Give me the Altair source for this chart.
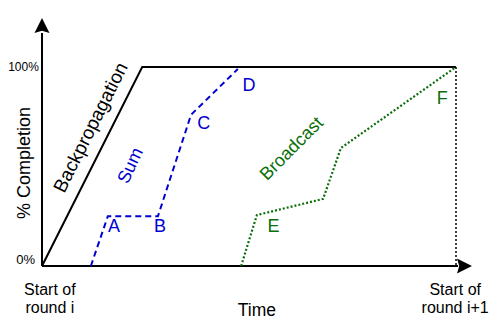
import altair as alt
import pandas as pd

# ---- data (x = time in % of a round, y = % completion) ----
bp_t = [0, 24.2, 100]
bp_pct = [0, 100, 100]
sum_t = [11.8, 15.9, 28.0, 36.0, 47.3]
sum_pct = [0, 25, 25, 76, 99]
bc_t = [48.1, 51.9, 67.9, 72.2, 100]
bc_pct = [0, 25.6, 33.7, 59.3, 100]

sum_point_labels = ["A", "B", "C", "D"]
sum_point_t = [17.4, 28.5, 39.1, 50.0]
sum_point_pct = [19.6, 19.6, 71.4, 90.5]
bc_point_labels = ["E", "F"]
bc_point_t = [55.9, 96.7]
bc_point_pct = [19.8, 83.7]

BLUE = "#0000d0"
GREEN = "#0a6e0a"
FONT = "Liberation Sans"

# scale: 4.14 px per time unit, 1.99 px per %
W, H = 482, 319
OX, OY = 34, 258
KX, KY = 4.14, 1.99
xs = alt.Scale(domain=[(0 - OX) / KX, (W - OX) / KX], nice=False, zero=False)
ys = alt.Scale(domain=[(OY - H) / KY, OY / KY], nice=False, zero=False)


def X(f="x"):
    return alt.X(f"{f}:Q", scale=xs, axis=None)


def Y(f="y"):
    return alt.Y(f"{f}:Q", scale=ys, axis=None)


def line(t, p, color, dash=None, width=2):
    df = pd.DataFrame({"x": t, "y": p, "o": list(range(len(t)))})
    kw = dict(color=color, strokeWidth=width, clip=False)
    if dash:
        kw["strokeDash"] = dash
    return alt.Chart(df).mark_line(**kw).encode(x=X(), y=Y(), order="o:Q")


def text(labels, t, p, color="black", size=18, angle=0, align="center", baseline="middle", **extra):
    df = pd.DataFrame({"x": t, "y": p, "label": labels})
    kw = dict(color=color, fontSize=size, font=FONT, align=align, baseline=baseline)
    if angle:
        kw["angle"] = angle
    kw.update(extra)
    return alt.Chart(df).mark_text(**kw).encode(x=X(), y=Y(), text="label:N")


# axes
y_axis = alt.Chart(pd.DataFrame({"x": [0], "y": [0], "y2": [117.1]})).mark_rule(
    color="black", strokeWidth=2).encode(x=X(), y=Y(), y2="y2:Q")
x_axis = alt.Chart(pd.DataFrame({"x": [0], "x2": [100.5], "y": [0]})).mark_rule(
    color="black", strokeWidth=2).encode(x=X(), x2="x2:Q", y=Y())
y_arrow = alt.Chart(pd.DataFrame({"x": [0], "y": [120.9]})).mark_point(
    shape="M0,-1L1,1L0,0.7L-1,1Z", size=225, filled=True, fill="black",
    stroke=None, opacity=1).encode(x=X(), y=Y())
x_arrow = alt.Chart(pd.DataFrame({"x": [102.05], "y": [0]})).mark_point(
    shape="M1,0L-1,1L-0.7,0L-1,-1Z", size=225, filled=True, fill="black",
    stroke=None, opacity=1).encode(x=X(), y=Y())

# series
bp_line = line(bp_t, bp_pct, "black", width=2)
end_line = line([100, 100], [100, 0], "black", dash=[2, 2], width=1.5)
sum_line = line(sum_t, sum_pct, BLUE, dash=[6, 4], width=2)
bc_line = line(bc_t, bc_pct, GREEN, dash=[2, 2], width=2.2)

# labels
lbl_bp = text(["Backpropagation"], [11.8], [69.6], size=19, angle=296.7)
lbl_sum = text(["Sum"], [21.5], [50.3], color=BLUE, angle=295)
lbl_bc = text(["Broadcast"], [60.4], [58.8], color=GREEN, angle=315)
lbl_sum_pts = text(sum_point_labels, sum_point_t, sum_point_pct, color=BLUE)
lbl_bc_pts = text(bc_point_labels, bc_point_t, bc_point_pct, color=GREEN)
lbl_100 = text(["100%"], [-0.75], [100], size=12, align="right")
lbl_0 = text(["0%"], [-1.7], [3], size=13, align="right")
lbl_ytitle = text(["% Completion"], [-4.1], [51.8], angle=270)
lbl_xtitle = text(["Time"], [51.9], [-22.6], size=17.5)
lbl_start = text(["Start of\nround i", "Start of\nround i+1"], [1.9, 99.8], [-14.6, -14.6],
                 size=16, baseline="alphabetic", lineBreak="\n", lineHeight=18)

chart = alt.layer(
    y_axis, x_axis, y_arrow, x_arrow,
    bp_line, end_line, sum_line, bc_line,
    lbl_bp, lbl_sum, lbl_bc, lbl_sum_pts, lbl_bc_pts, lbl_100, lbl_0,
    lbl_ytitle, lbl_xtitle, lbl_start,
).properties(
    width=W, height=H, padding=0, autosize=alt.AutoSizeParams(type="none")
).configure_view(stroke=None)

chart.save("out.html", embed_options={"renderer": "svg", "actions": False})
